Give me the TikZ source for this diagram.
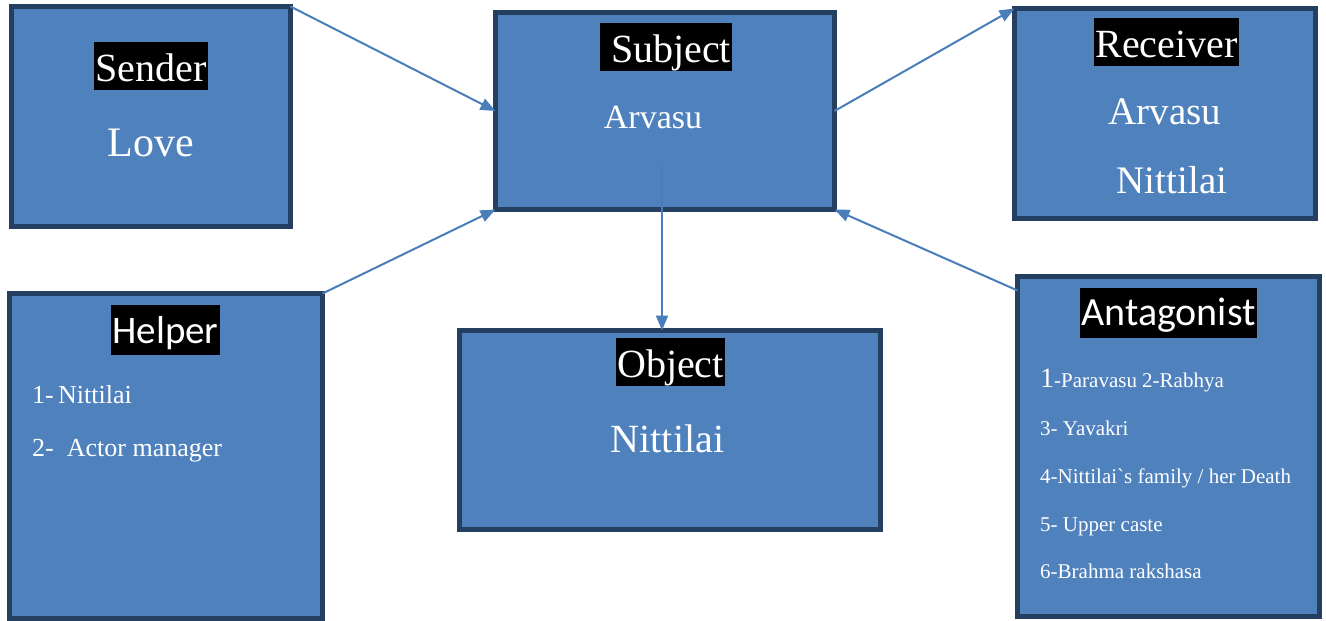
\documentclass[tikz,border=0pt]{standalone}
\usepackage{fontspec}
\setmainfont{Liberation Serif}
\newfontfamily\calibri{Carlito}
\usetikzlibrary{arrows.meta}
\definecolor{boxfill}{HTML}{4F81BD}
\definecolor{boxline}{HTML}{243F60}
\definecolor{linkblue}{HTML}{4A7EBB}
\newcommand{\fsz}[1]{\fontsize{#1}{#1}\selectfont}
\tikzset{
  role/.style={draw=boxline, fill=boxfill, line width=5pt, rectangle, inner sep=0pt, outer sep=0pt},
  tag/.style={fill=black, text=white, inner xsep=1pt, inner ysep=0pt, anchor=base, text height=39pt, text depth=9pt},
  word/.style={text=white, inner sep=0pt, anchor=base},
  item/.style={text=white, inner sep=0pt, anchor=base west},
  link/.style={draw=linkblue, line width=2pt, -{Triangle[length=15pt,width=12pt]}}
}
\begin{document}
\begin{tikzpicture}[x=1pt, y=-1pt]
        \useasboundingbox (0,0) rectangle (1326,621);

        \node[role, minimum width=279pt, minimum height=220pt] (sender) at (151,116.5) {};
        \node[role, minimum width=339pt, minimum height=197pt] (subject) at (665,111) {};
        \node[role, minimum width=301pt, minimum height=210pt] (receiver) at (1165,113.5) {};
        \node[role, minimum width=313pt, minimum height=325pt] (helper) at (166,456) {};
        \node[role, minimum width=421pt, minimum height=199pt] (object) at (670,430) {};
        \node[role, minimum width=302pt, minimum height=340pt] (antagonist) at (1168.5,446.5) {};

        \node[tag, font=\fsz{40}] (senderTag) at (151,81) {Sender};
        \node[word, font=\fsz{42}] (love) at (151,156) {Love};

        \node[tag, font=\fsz{40}] (subjectTag) at (666,62) {~Subject};
        \node[word, font=\fsz{34}] (subjectName) at (653,128) {Arvasu};

        \node[tag, font=\fsz{40}] (receiverTag) at (1166.5,57) {Receiver};
        \node[word, font=\fsz{39}] (receiverA) at (1165,124) {Arvasu};
        \node[word, font=\fsz{39}] (receiverB) at (1172,193) {Nittilai};

        \node[tag, font=\fsz{40}] (objectTag) at (670.5,377) {Object};
        \node[word, font=\fsz{40}] (objectName) at (667.5,452) {Nittilai};

        \node[tag, font=\calibri\fsz{39}, text height=38pt, text depth=12pt] (helperTag) at (165.5,343) {Helper};
        \node[item, font=\fsz{26}] (helperA) at (32,403) {1-\,Nittilai};
        \node[item, font=\fsz{26}] (helperB) at (32,456) {2-\ \ Actor manager};

        \node[tag, font=\calibri\fsz{40}, text height=37pt, text depth=13pt] (antagonistTag) at (1168.5,325) {Antagonist};
        \node[item, font=\fsz{21}] (antA) at (1040,387) {{\fsz{28}1}-Paravasu 2-Rabhya};
        \node[item, font=\fsz{21}] (antB) at (1040,435) {3- Yavakri};
        \node[item, font=\fsz{21}] (antC) at (1040,483) {4-Nittilai\textasciigrave s family / her Death};
        \node[item, font=\fsz{21}] (antD) at (1040,531) {5- Upper caste};
        \node[item, font=\fsz{21}] (antE) at (1040,578) {6-Brahma rakshasa};

        \coordinate (objFrom) at (662,165);

        \draw[link] (sender.north east) -- (subject.west);
        \draw[link] (helper.north east) -- (subject.south west);
        \draw[link] (subject.east) -- (receiver.north west);
        \draw[link] ([yshift=-14pt]antagonist.north west) -- (subject.south east);
        \draw[link] (objFrom) -- (objFrom |- object.north);

    \end{tikzpicture}
\end{document}
